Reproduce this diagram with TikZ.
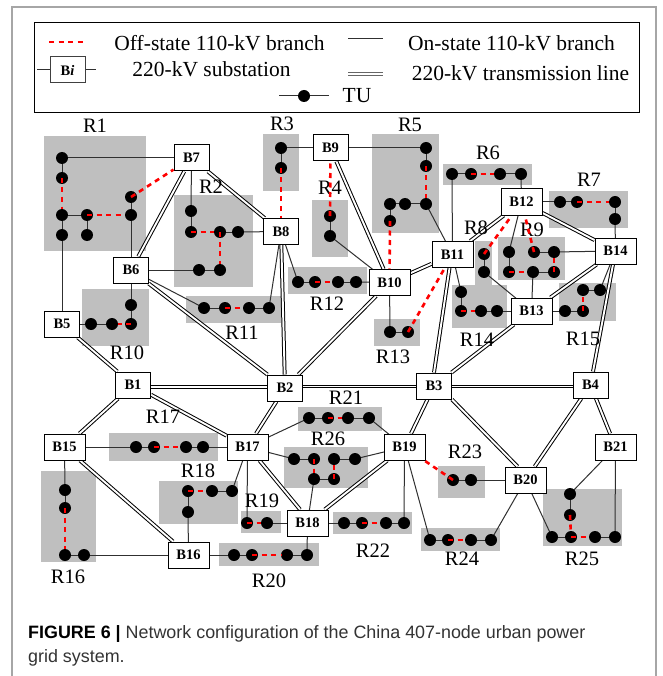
\documentclass[tikz,border=0pt]{standalone}
\usepackage{fontspec}
\setmainfont{Liberation Serif}
\newfontfamily\capfont{Liberation Sans}
\usetikzlibrary{backgrounds}
\pgfdeclarelayer{regionlayer}
\pgfdeclarelayer{linelayer}
\pgfdeclarelayer{toplayer}
\pgfsetlayers{regionlayer,linelayer,main,toplayer}
\definecolor{regiongray}{HTML}{BFBFBF}
\definecolor{framegray}{HTML}{A6A6A6}
\definecolor{offred}{HTML}{FF0000}
\definecolor{wiregray}{HTML}{303030}
\definecolor{captext}{HTML}{333333}
\tikzset{
  x=1pt,y=-1pt,
  sub/.style={draw=black,fill=white,line width=1pt,minimum width=35pt,minimum height=26pt,inner sep=0pt,font=\fontsize{14.5}{14.5}\selectfont\bfseries},
  subw/.style={sub,minimum width=41pt},
  tu/.style={circle,fill=black,draw=none,minimum size=12pt,inner sep=0pt},
  lab/.style={inner sep=0pt,font=\fontsize{20.5}{21}\selectfont},
  legtext/.style={inner sep=0pt,font=\fontsize{21.5}{22}\selectfont},
  onwire/.style={draw=wiregray,line width=1pt},
  offwire/.style={draw=offred,line width=2.6pt,dash pattern=on 5pt off 4.5pt},
  hv/.style={draw=black,line width=1pt,double=white,double distance=1.9pt},
  region/.style={fill=regiongray}
}
\begin{document}
\begin{tikzpicture}
\useasboundingbox (0,0) rectangle (662,676);
\begin{pgfonlayer}{regionlayer}
\fill[white] (0,0) rectangle (662,676);
\end{pgfonlayer}
\draw[framegray,line width=1.3pt] (12,676) -- (12,7) -- (656,7) -- (656,676);
% legend
\draw[black,line width=0.9pt] (34.5,22) rectangle (639,112);
\coordinate (la) at (49,42); \coordinate (lb) at (86,42);
\draw[offwire] (la) -- (lb);
\node[legtext] (t1) at (219.5,43) {Off-state 110-kV branch};
\coordinate (lc) at (37,70); \coordinate (ld) at (96,70);
\node[sub,draw=black!75] (lbi) at (67.5,70) {B\textit{i}};
\begin{pgfonlayer}{linelayer}
\draw[onwire] (lc) -- (lbi); \draw[onwire] (lbi) -- (ld);
\end{pgfonlayer}
\node[legtext] (t2) at (211.5,69) {220-kV substation};
\coordinate (le) at (279,96); \coordinate (lf) at (329,96);
\node[tu] (ltu) at (304,96) {};
\begin{pgfonlayer}{linelayer}
\draw[onwire] (le) -- (lf);
\end{pgfonlayer}
\node[legtext] (t3) at (357,96) {TU};
\coordinate (lg) at (348,39); \coordinate (lh) at (383,39);
\draw[onwire] (lg) -- (lh);
\node[legtext] (t4) at (511.5,43) {On-state 110-kV branch};
\coordinate (li) at (348,74); \coordinate (lj) at (383,74);
\draw[draw=black!60,line width=1pt,double=white,double distance=1.4pt] (li) -- (lj);
\node[legtext] (t5) at (520.5,73) {220-kV transmission line};
% regions
\begin{pgfonlayer}{regionlayer}
\fill[region] (44,136) rectangle (146,251);
\fill[region] (174,195) rectangle (253,287);
\fill[region] (263,134) rectangle (299,191);
\fill[region] (312,200) rectangle (348,257);
\fill[region] (372,134) rectangle (439,233);
\fill[region] (443,164) rectangle (532,185);
\fill[region] (549,191) rectangle (628,228);
\fill[region] (475,241) rectangle (492,285);
\fill[region] (498,237) rectangle (565,280);
\fill[region] (82,289) rectangle (149,346);
\fill[region] (186,296) rectangle (281,323);
\fill[region] (288,267) rectangle (367,294);
\fill[region] (374,319) rectangle (420,346);
\fill[region] (452,285) rectangle (507,328);
\fill[region] (559,283) rectangle (616,321);
\fill[region] (41,471) rectangle (96,562);
\fill[region] (109,433) rectangle (218,461);
\fill[region] (159,481) rectangle (238,524);
\fill[region] (241,511) rectangle (281,533);
\fill[region] (219,543) rectangle (319,566);
\fill[region] (298,407) rectangle (382,431);
\fill[region] (333,512) rectangle (412,534);
\fill[region] (284,447) rectangle (368,488);
\fill[region] (438,466) rectangle (485,498);
\fill[region] (421,528) rectangle (500,551);
\fill[region] (543,489) rectangle (622,546);
\end{pgfonlayer}
% substations
\node[sub] (B1) at (133,385) {B1};
\node[sub] (B2) at (285,388) {B2};
\node[sub] (B3) at (434,386) {B3};
\node[sub] (B4) at (590.5,385) {B4};
\node[sub] (B5) at (62,324) {B5};
\node[sub] (B6) at (131,270) {B6};
\node[sub] (B7) at (191.5,158) {B7};
\node[sub] (B8) at (281,231.5) {B8};
\node[sub] (B9) at (330.5,148) {B9};
\node[subw] (B10) at (389.5,282.5) {B10};
\node[subw] (B11) at (452.5,254.5) {B11};
\node[subw] (B12) at (521.5,202) {B12};
\node[subw] (B13) at (531.5,311) {B13};
\node[subw] (B14) at (615.5,251) {B14};
\node[subw] (B15) at (64.5,447) {B15};
\node[subw] (B16) at (188.5,555) {B16};
\node[subw] (B17) at (247.5,447) {B17};
\node[subw] (B18) at (307.5,523) {B18};
\node[subw] (B19) at (404.5,447) {B19};
\node[subw] (B20) at (525.5,480) {B20};
\node[subw] (B21) at (615.5,447) {B21};
% TUs
\node[tu] (a1) at (62,158) {}; \node[tu] (a2) at (62,178) {}; \node[tu] (a3) at (62,215) {}; \node[tu] (a4) at (62,235) {};
\node[tu] (a5) at (87,215) {}; \node[tu] (a6) at (87,235) {}; \node[tu] (a7) at (131,215) {}; \node[tu] (a8) at (131,197) {};
\node[tu] (b1) at (191,211) {}; \node[tu] (b2) at (191,232) {}; \node[tu] (b3) at (220,232) {}; \node[tu] (b4) at (238,232) {};
\node[tu] (b5) at (220,270) {}; \node[tu] (b6) at (199,270) {};
\node[tu] (c1) at (281,148) {}; \node[tu] (c2) at (281,168) {};
\node[tu] (d1) at (330,216) {}; \node[tu] (d2) at (330,236) {};
\node[tu] (e1) at (426,148) {}; \node[tu] (e2) at (426,166) {}; \node[tu] (e3) at (426,204) {}; \node[tu] (e4) at (405,204) {};
\node[tu] (e5) at (390,204) {}; \node[tu] (e6) at (390,221) {};
\node[tu] (f1) at (452,174) {}; \node[tu] (f2) at (471,174) {}; \node[tu] (f3) at (500,174) {}; \node[tu] (f4) at (521,174) {};
\node[tu] (g1) at (560,202) {}; \node[tu] (g2) at (577,202) {}; \node[tu] (g3) at (615,202) {}; \node[tu] (g4) at (615,219) {};
\node[tu] (h1) at (484,254) {}; \node[tu] (h2) at (484,272) {};
\node[tu] (i1) at (509,252) {}; \node[tu] (i2) at (509,272) {}; \node[tu] (i3) at (533,272) {}; \node[tu] (i4) at (554,272) {};
\node[tu] (i5) at (554,252) {}; \node[tu] (i6) at (534,252) {};
\node[tu] (j1) at (131,305) {}; \node[tu] (j2) at (131,324) {}; \node[tu] (j3) at (112,324) {}; \node[tu] (j4) at (91,324) {};
\node[tu] (k1) at (204,308) {}; \node[tu] (k2) at (225,308) {}; \node[tu] (k3) at (249,308) {}; \node[tu] (k4) at (269,308) {};
\node[tu] (l1) at (298,282) {}; \node[tu] (l2) at (315,282) {}; \node[tu] (l3) at (338,282) {}; \node[tu] (l4) at (356,282) {};
\node[tu] (m1) at (390,332) {}; \node[tu] (m2) at (408,332) {};
\node[tu] (n1) at (461,292) {}; \node[tu] (n2) at (461,311) {}; \node[tu] (n3) at (481,311) {}; \node[tu] (n4) at (497,311) {};
\node[tu] (o1) at (565,311) {}; \node[tu] (o2) at (583,311) {}; \node[tu] (o3) at (583,290) {}; \node[tu] (o4) at (600,290) {};
\node[tu] (p1) at (65,490) {}; \node[tu] (p2) at (65,508) {}; \node[tu] (p3) at (65,555) {}; \node[tu] (p4) at (84,555) {};
\node[tu] (q1) at (136,447) {}; \node[tu] (q2) at (154,447) {}; \node[tu] (q3) at (186,447) {}; \node[tu] (q4) at (203,447) {};
\node[tu] (r1) at (188,512) {}; \node[tu] (r2) at (188,491) {}; \node[tu] (r3) at (212,491) {}; \node[tu] (r4) at (232,491) {};
\node[tu] (s1) at (247,523) {}; \node[tu] (s2) at (267,523) {};
\node[tu] (t1d) at (234,555) {}; \node[tu] (t2d) at (252,555) {}; \node[tu] (t3d) at (287,555) {}; \node[tu] (t4d) at (307,555) {};
\node[tu] (u1) at (309,418) {}; \node[tu] (u2) at (328,418) {}; \node[tu] (u3) at (348,418) {}; \node[tu] (u4) at (369,418) {};
\node[tu] (v1) at (344,523) {}; \node[tu] (v2) at (362,523) {}; \node[tu] (v3) at (386,523) {}; \node[tu] (v4) at (404,523) {};
\node[tu] (w1) at (294,459) {}; \node[tu] (w2) at (314,459) {}; \node[tu] (w3) at (314,479) {}; \node[tu] (w4) at (334,479) {};
\node[tu] (w5) at (334,459) {}; \node[tu] (w6) at (355,459) {};
\node[tu] (x1) at (453,480) {}; \node[tu] (x2) at (471,480) {};
\node[tu] (y1) at (430,540) {}; \node[tu] (y2) at (448,540) {}; \node[tu] (y3) at (471,540) {}; \node[tu] (y4) at (491,540) {};
\node[tu] (z1) at (552,537) {}; \node[tu] (z2) at (571,537) {}; \node[tu] (z3) at (595,537) {}; \node[tu] (z4) at (615,537) {};
\node[tu] (z5) at (570,515) {}; \node[tu] (z6) at (570,494) {};
\begin{pgfonlayer}{linelayer}
% 220 kV
\foreach \p/\q in {B7/B6,B7/B8,B9/B10,B6/B2,B5/B1,B8/B2,B10/B2,B10/B11,B11/B12,B12/B14,B14/B13,B14/B4,B13/B3,B1/B15,B1/B17,B2/B17,B15/B16,B19/B18,B3/B19,B4/B20,B4/B21}
  \draw[hv] (\p) -- (\q);
\draw[hv] ([yshift=-2pt]B1.east) -- ([yshift=1pt]B2.west);
\draw[hv] ([yshift=1.5pt]B2.east) -- ([yshift=-0.5pt]B3.west);
\draw[hv] ([yshift=-0.5pt]B3.east) -- ([yshift=-1.5pt]B4.west);
\draw[hv] ([xshift=-3pt]B11.south) -- (B3.north);
\draw[hv] ([xshift=12pt]B17.south) -- ([xshift=-7.5pt]B18.north);
\draw[hv] (B3.south east) -- ([xshift=-8pt]B20.north);
% 110 kV on-state
\foreach \p/\q in {B7/a1,a1/a2,a3/a4,a3/a5,a5/a6,a7/a8,a4/B5,a7/B6,
  B7/b1,b1/b2,b3/b4,b4/B8,b5/b6,b6/B6,
  c1/B9,c1/c2,d1/d2,d2/B10,
  B9/e1,e1/e2,e3/e4,e4/e5,e5/e6,e3/B11,
  f1/B11,f1/f2,f3/f4,f4/B12,
  B12/g1,g1/g2,g3/g4,g4/B14,
  h1/h2,h2/B13,
  B12/i1,i1/i2,i3/i4,i3/B13,i5/i6,i5/B14,
  B6/j1,j1/j2,j3/j4,j4/B5,
  B6/k1,k1/k2,k3/k4,k4/B8,
  B8/l1,l1/l2,l3/l4,l4/B10,
  B10/m1,m1/m2,
  B11/n1,n1/n2,n3/n4,n4/B13,
  B13/o1,o1/o2,o3/o4,o4/B14,
  B15/p1,p1/p2,p3/p4,p4/B16,
  B15/q1,q1/q2,q3/q4,q4/B17,
  B16/r1,r1/r2,r3/r4,r4/B17,
  B17/s1,s2/B18,
  B16/t1d,t1d/t2d,t3d/t4d,t4d/B18,
  B17/u1,u1/u2,u3/u4,u4/B19,
  B18/v1,v1/v2,v3/v4,v4/B19,
  B17/w1,w1/w2,w3/w4,w5/w6,w6/B19,w3/B18,
  x1/x2,x2/B20,
  B19/y1,y1/y2,y3/y4,y4/B20,
  B20/z1,z1/z2,z3/z4,z4/B21,z5/z6,z6/B21}
  \draw[onwire] (\p.center) -- (\q.center);
\end{pgfonlayer}
% 110 kV off-state
\begin{pgfonlayer}{toplayer}
\foreach \p/\q in {a2/a3,a5/a7,b2/b3,b3/b5,e2/e3,f2/f3,g2/g3,h1/B12,i2/i3,i4/i5,i6/B12,j2/j3,k2/k3,l2/l3,n2/n3,o2/o3,p2/p3,q2/q3,r2/r3,s1/s2,t2d/t3d,u2/u3,v2/v3,w2/w3,w4/w5,y2/y3,z2/z3,z5/z2}
  \draw[offwire] (\p.center) -- (\q);
\draw[offwire] (a8.center) -- (B7);
\draw[offwire] (c2.center) -- (B8);
\draw[offwire] (d1.center) -- (B9);
\draw[offwire] (e6.center) -- (B10);
\draw[offwire] (m2.center) -- (B11);
\draw[offwire] (x1.center) -- (B19);
\end{pgfonlayer}
% labels
\foreach \nm/\t/\xx/\yy in {la1/R1/95/126,la2/R2/211/187,la3/R3/282/124,la4/R4/330/188,la5/R5/410/125,la6/R6/488/153,la7/R7/589/180,la8/R8/476/228,la9/R9/532/230,la10/R10/127/353,la11/R11/242/333,la12/R12/327/304,la13/R13/393/357,la14/R14/477/340,la15/R15/583/339,la16/R16/68/577,la17/R17/163/417,la18/R18/198/471,la19/R19/262/501,la20/R20/269/581,la21/R21/346/398,la22/R22/373/551,la23/R23/465/452,la24/R24/462/559,la25/R25/582/559,la26/R26/328/439}
  \node[lab] (\nm) at (\xx,\yy) {\t};
% caption
\node[anchor=base west,inner sep=0pt,text=captext,font=\capfont\fontsize{17.9}{18}\selectfont] (cap1) at (28,638) {\textbf{\textcolor{black}{FIGURE 6 |}} Network configuration of the China 407-node urban power};
\node[anchor=base west,inner sep=0pt,text=captext,font=\capfont\fontsize{17.9}{18}\selectfont] (cap2) at (28,662) {grid system.};
\end{tikzpicture}
\end{document}
